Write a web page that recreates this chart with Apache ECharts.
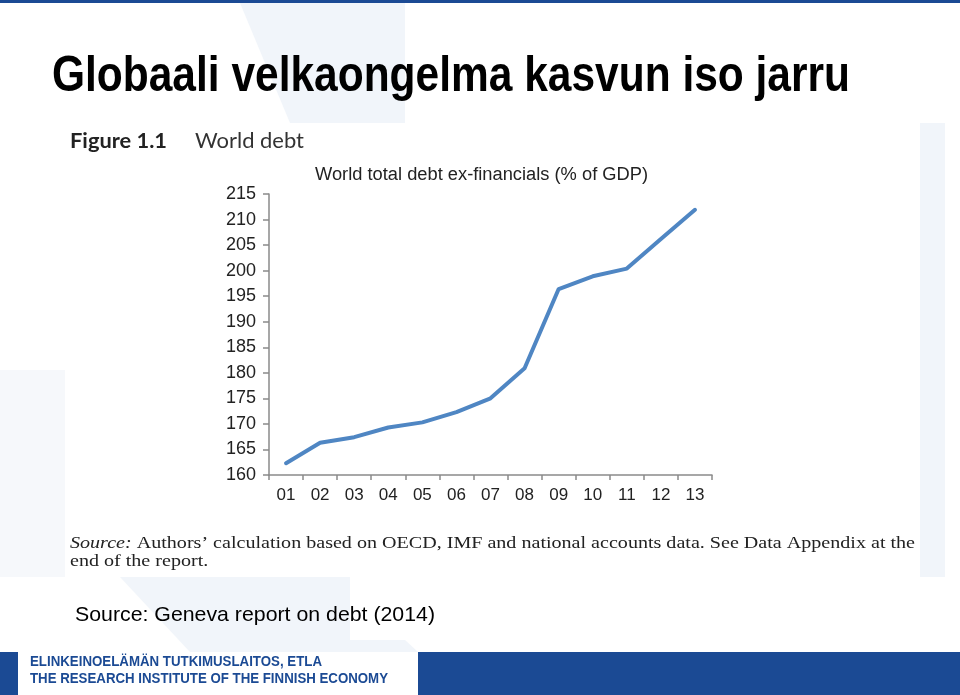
<!DOCTYPE html>
<html><head><meta charset="utf-8">
<script src="https://cdn.jsdelivr.net/npm/echarts@6/dist/echarts.min.js"></script>
<style>html,body{margin:0;padding:0;background:#fff}#c{width:960px;height:695px}</style>
</head><body><div id="c"></div>
<script>
const years = ['01','02','03','04','05','06','07','08','09','10','11','12','13'];
const debt = [162.3, 166.3, 167.4, 169.3, 170.3, 172.3, 175.0, 180.9, 196.4, 198.9, 200.4, 206.2, 211.9];
const yMin = 160, yMax = 215, yStep = 5;

const ctx = document.createElement('canvas').getContext('2d');
function measure(font, text){ ctx.font = font; return ctx.measureText(text).width; }
function fitText(text, font, x, y, targetW, fill){
  const w = measure(font, text);
  return {type:'text', x:x, y:y, scaleX: targetW / w, originX:0, originY:0,
    style:{x:0, y:0, text:text, font:font, fill:fill, verticalAlign:'top'}};
}

const chart = echarts.init(document.getElementById('c'), null, {renderer:'canvas'});
const pale = '#f1f5fa';
const navy = '#1b4a94';
const serif = '16.5px "Liberation Serif", serif';
const serifI = 'italic 16.5px "Liberation Serif", serif';
const srcA = 'Source:';
const srcB = ' Authors\u2019 calculation based on OECD, IMF and national accounts data. See Data Appendix at the';
const srcW = measure(serifI, srcA) + measure(serif, srcB);
const srcScale = 845 / srcW;
const footFont = 'bold 14px "Liberation Sans", Arial, sans-serif';

chart.setOption({
  backgroundColor:'#ffffff',
  animation:false,
  grid:{left:269, right:248, top:194, bottom:220, containLabel:false},
  xAxis:{type:'category', data:years, boundaryGap:true,
    axisLine:{lineStyle:{color:'#8a8a8a', width:1.5}},
    axisTick:{show:true, length:5, lineStyle:{color:'#8a8a8a', width:1.5}},
    axisLabel:{color:'#222', fontFamily:'Liberation Sans, Arial, sans-serif', fontSize:17, margin:12}},
  yAxis:{type:'value', min:yMin, max:yMax, interval:yStep,
    splitLine:{show:false},
    axisLine:{show:true, lineStyle:{color:'#8a8a8a', width:1.5}},
    axisTick:{show:true, length:6, lineStyle:{color:'#8a8a8a', width:1.5}},
    axisLabel:{color:'#222', fontFamily:'Liberation Sans, Arial, sans-serif', fontSize:18, margin:13}},
  series:[{type:'line', data:debt, symbol:'none', smooth:false,
    lineStyle:{color:'#4f86c3', width:4, cap:'round', join:'round'}}],
  graphic:[
    {type:'polygon', z:-10, shape:{points:[[240,3],[405,3],[405,123],[290,123]]}, style:{fill:pale}},
    {type:'polygon', z:-10, shape:{points:[[920,123],[945,123],[945,577],[920,577]]}, style:{fill:pale}},
    {type:'polygon', z:-10, shape:{points:[[120,577],[350,577],[350,652],[190,652]]}, style:{fill:pale}},
    {type:'polygon', z:-10, shape:{points:[[0,370],[65,370],[65,577],[0,577]]}, style:{fill:'#f6f8fb'}},
    {type:'polygon', z:-10, shape:{points:[[200,640],[405,640],[418,652],[210,652]]}, style:{fill:pale}},
    {type:'rect', z:-5, shape:{x:65,y:123,width:855,height:454}, style:{fill:'#ffffff'}},
    {type:'rect', shape:{x:0,y:0,width:960,height:3}, style:{fill:navy}},
    fitText('Globaali velkaongelma kasvun iso jarru', 'bold 50px "Liberation Sans", Arial, sans-serif', 52, 52, 798, '#000'),
    fitText('Figure 1.1', 'bold 21px Lato, "Open Sans", sans-serif', 70, 131, 97, '#222'),
    fitText('World debt', '21px Lato, "Open Sans", sans-serif', 195, 131, 109, '#333'),
    fitText('World total debt ex-financials (% of GDP)', '18px "Liberation Sans", Arial, sans-serif', 315, 166, 333, '#222'),
    {type:'text', x:70, y:535, scaleX:srcScale, originX:0, originY:0, style:{x:0, y:0, verticalAlign:'top',
      rich:{i:{font:serifI, fill:'#222'}, n:{font:serif, fill:'#222'}},
      text:'{i|' + srcA + '}{n|' + srcB + '}'}},
    {type:'text', x:70, y:553, scaleX:srcScale, originX:0, originY:0, style:{x:0, y:0, verticalAlign:'top', text:'end of the report.', fill:'#222', font:serif}},
    fitText('Source: Geneva report on debt (2014)', '21px "Liberation Sans", Arial, sans-serif', 75, 605, 360, '#000'),
    {type:'rect', shape:{x:0,y:652,width:18,height:43}, style:{fill:navy}},
    {type:'rect', shape:{x:418,y:652,width:542,height:43}, style:{fill:navy}},
    fitText('ELINKEINOELÄMÄN TUTKIMUSLAITOS, ETLA', footFont, 30, 655, 292, navy),
    fitText('THE RESEARCH INSTITUTE OF THE FINNISH ECONOMY', footFont, 30, 672, 358, navy)
  ]
});
</script></body></html>
